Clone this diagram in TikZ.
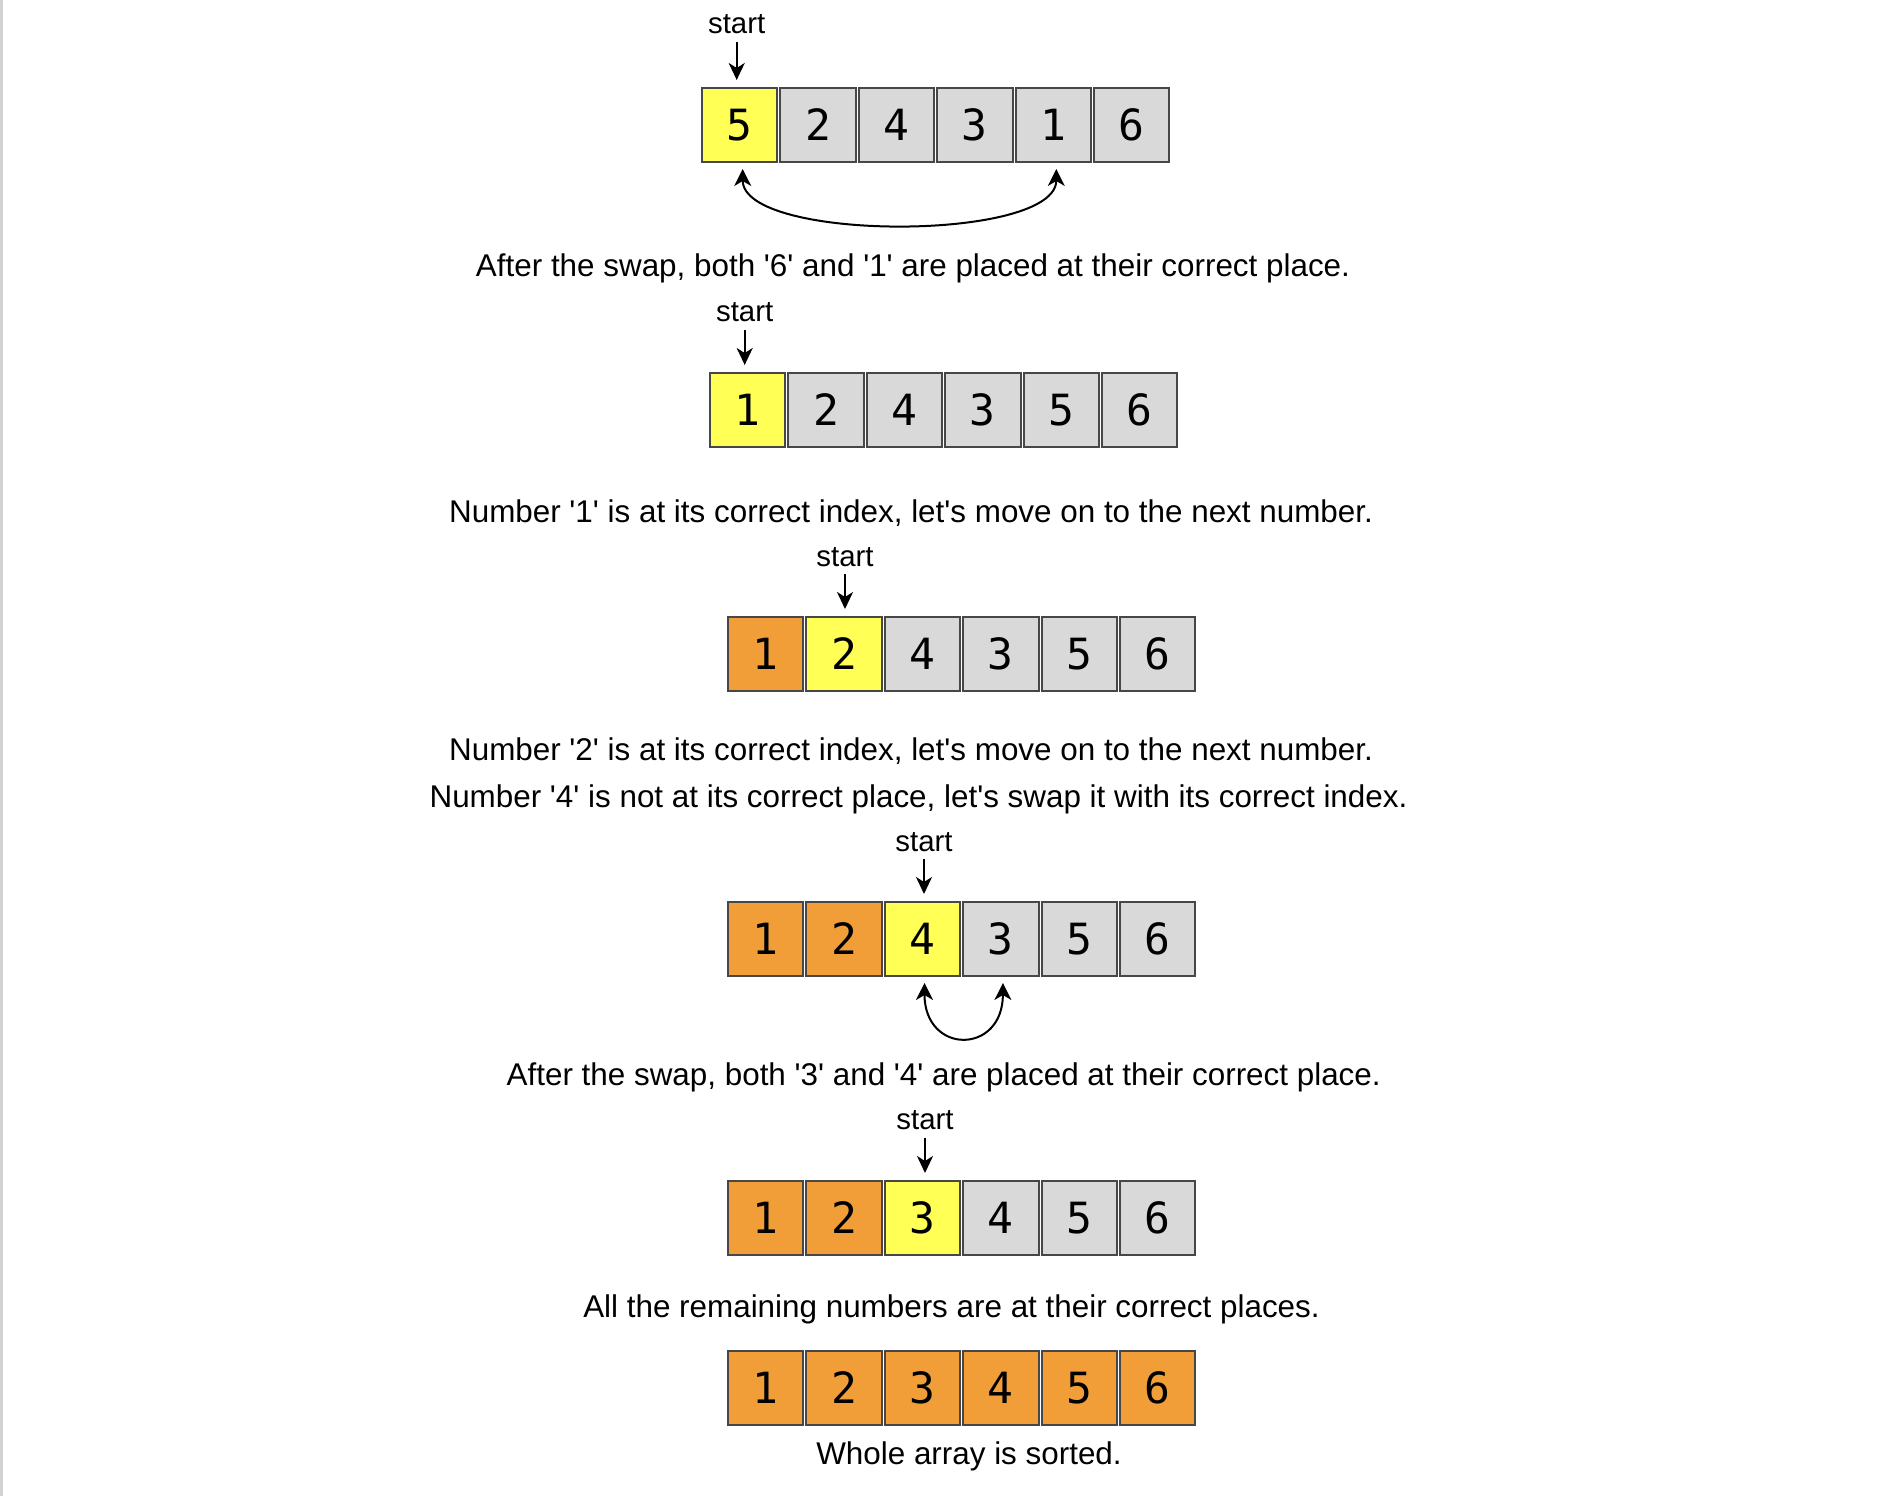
\documentclass[tikz,border=0pt]{standalone}
\usepackage{fontspec}
\setmainfont{Liberation Sans}[Ligatures=TeXOff]
\newfontfamily\digitfont{DejaVu Sans Mono}
\usetikzlibrary{arrows.meta}
\definecolor{curcol}{HTML}{FFFF55}
\definecolor{donecol}{HTML}{F19E38}
\definecolor{todocol}{HTML}{D9D9D9}
\definecolor{edgecol}{HTML}{474747}
\tikzset{
  cell/.style={draw=edgecol, line width=2pt, minimum width=75.4pt, minimum height=74pt,
    inner sep=0pt, text height=31pt, text depth=0pt, font=\digitfont\fontsize{43}{50}\selectfont},
  cur/.style={cell, fill=curcol},
  done/.style={cell, fill=donecol},
  todo/.style={cell, fill=todocol},
  caption/.style={inner sep=0pt, anchor=base, font=\fontsize{31.4}{37}\selectfont},
  startlbl/.style={inner sep=0pt, anchor=base, font=\fontsize{29.4}{35}\selectfont},
  ptr/.style={-{Stealth[length=17pt,width=16pt,inset=5pt]}, line width=2pt, shorten <=8pt, shorten >=7pt},
  swap/.style={{Stealth[length=17pt,width=17pt,inset=5pt]}-{Stealth[length=17pt,width=17pt,inset=5pt]},
    line width=2pt, shorten <=6pt, shorten >=6pt}
}
\begin{document}
\begin{tikzpicture}[x=1pt,y=-1pt]
  \useasboundingbox (0,0) rectangle (1884,1496);
  \draw[gray!35, line width=3pt] (1.5,0) -- (1.5,1496);

  % first pass: 5 goes to index of 1
  \foreach \i/\v/\s in {1/5/cur, 2/2/todo, 3/4/todo, 4/3/todo, 5/1/todo, 6/6/todo}
    \node[\s] (r1c\i) at ({739.7+(\i-1)*78.4},125) {\v};
  \node[startlbl] (s1) at (736.7,34) {start};
  \draw[ptr] (s1) -- (s1 |- r1c1.north);
  \draw[swap] ([xshift=3pt]r1c1.south) .. controls +(0,79) and +(0,79) .. ([xshift=3pt]r1c5.south);
  \node[caption] (t1) at (913,276) {After the swap, both '6' and '1' are placed at their correct place.};

  \foreach \i/\v/\s in {1/1/cur, 2/2/todo, 3/4/todo, 4/3/todo, 5/5/todo, 6/6/todo}
    \node[\s] (r2c\i) at ({747.7+(\i-1)*78.4},410) {\v};
  \node[startlbl] (s2) at (744.7,321.7) {start};
  \draw[ptr] (s2) -- (s2 |- r2c1.north);
  \node[caption] (t2) at (911,522) {Number '1' is at its correct index, let's move on to the next number.};

  \foreach \i/\v/\s in {1/1/done, 2/2/cur, 3/4/todo, 4/3/todo, 5/5/todo, 6/6/todo}
    \node[\s] (r3c\i) at ({765.7+(\i-1)*78.4},654) {\v};
  \node[startlbl] (s3) at (845,566) {start};
  \draw[ptr] (s3) -- (s3 |- r3c2.north);
  \node[caption] (t3) at (911,760.7) {Number '2' is at its correct index, let's move on to the next number.};
  \node[caption] (t4) at (918.5,807) {Number '4' is not at its correct place, let's swap it with its correct index.};

  \foreach \i/\v/\s in {1/1/done, 2/2/done, 3/4/cur, 4/3/todo, 5/5/todo, 6/6/todo}
    \node[\s] (r4c\i) at ({765.7+(\i-1)*78.4},939) {\v};
  \node[startlbl] (s4) at (924,851) {start};
  \draw[ptr] (s4) -- (s4 |- r4c3.north);
  \draw[swap] ([xshift=2pt]r4c3.south) .. controls +(0,78) and +(0,78) .. ([xshift=2pt]r4c4.south);
  \node[caption] (t5) at (943.7,1085) {After the swap, both '3' and '4' are placed at their correct place.};

  \foreach \i/\v/\s in {1/1/done, 2/2/done, 3/3/cur, 4/4/todo, 5/5/todo, 6/6/todo}
    \node[\s] (r5c\i) at ({765.7+(\i-1)*78.4},1218) {\v};
  \node[startlbl] (s5) at (925,1129) {start};
  \draw[ptr] (s5) -- (s5 |- r5c3.north);
  \node[caption] (t6) at (951.5,1317) {All the remaining numbers are at their correct places.};

  % sorted
  \foreach \i in {1,...,6}
    \node[done] (r6c\i) at ({765.7+(\i-1)*78.4},1387.5) {\i};
  \node[caption] (t7) at (969,1464) {Whole array is sorted.};
\end{tikzpicture}
\end{document}
